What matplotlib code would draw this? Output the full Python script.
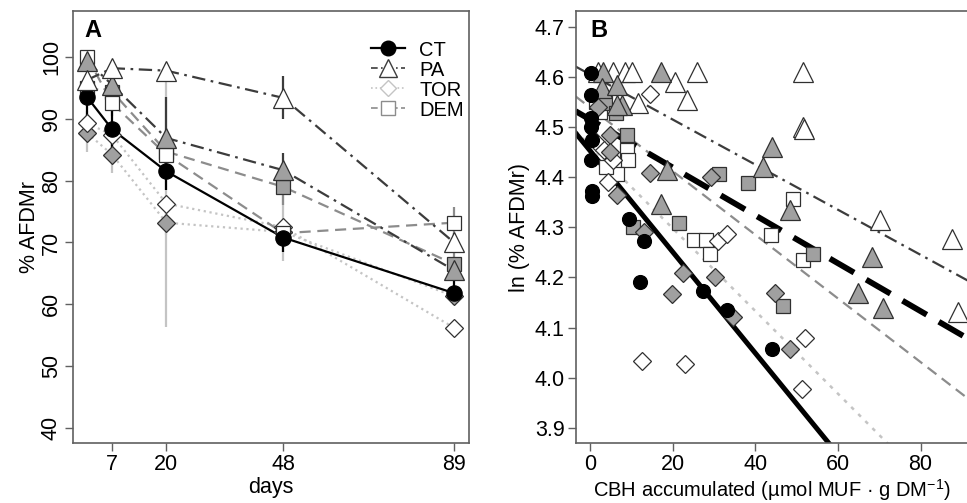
import matplotlib
matplotlib.use('Agg')
import matplotlib.pyplot as plt
from matplotlib.lines import Line2D

plt.rcParams['font.family'] = ['Liberation Sans', 'DejaVu Sans']
plt.rcParams['mathtext.default'] = 'regular'

# ---- panel A: % AFDMr over time ----
days = [1, 7, 20, 48, 89]
ct = [93.5, 88.3, 81.5, 70.8, 61.8]
ct_err = [3.0, 3.0, 3.0, 2.3, 1.9]
pa = [96.3, 98.2, 97.8, 93.4, 70.0]
pa_err = [0.8, 0.8, 1.0, 3.5, 1.5]
pa_g = [99.3, 95.5, 86.9, 81.7, 65.5]
pa_g_err = [1.0, 1.5, 6.7, 2.8, 1.5]
tor = [89.3, 87.4, 76.3, 72.5, 56.2]
tor_err = [2.0, 2.0, 20.0, 5.5, 1.0]
tor_g = [87.7, 84.2, 73.2, 71.7, 61.3]
tor_g_err = [3.1, 3.0, 2.0, 2.0, 1.0]
dem = [100.0, 92.5, 84.2, 71.5, 73.2]
dem_err = [1.0, 2.0, 2.0, 2.0, 2.6]
dem_g = [95.0, 94.4, 84.7, 79.0, 66.5]
dem_g_err = [1.0, 1.5, 2.0, 3.0, 2.0]

# ---- panel B: ln(% AFDMr) vs CBH accumulated ----
ct_x = [0.2, 0.2, 0.2, 0.2, 0.4, 0.2, 0.4, 0.4, 9.5, 13.1, 12.1, 27.3, 33.1, 44.0]
ct_y = [4.607, 4.563, 4.517, 4.500, 4.474, 4.434, 4.372, 4.362, 4.317, 4.273, 4.191, 4.173, 4.134, 4.057]
pa_x = [2.0, 5.6, 8.5, 10.1, 20.6, 25.8, 23.4, 11.7, 51.6, 51.6, 51.8, 70.2, 87.5, 89.1]
pa_y = [4.610, 4.610, 4.610, 4.610, 4.590, 4.610, 4.553, 4.547, 4.610, 4.500, 4.497, 4.315, 4.277, 4.131]
pa_g_x = [3.2, 17.3, 2.8, 6.5, 7.7, 6.5, 18.6, 44.0, 41.8, 17.3, 48.4, 68.2, 64.8, 71.0]
pa_g_y = [4.610, 4.610, 4.577, 4.583, 4.544, 4.544, 4.414, 4.460, 4.420, 4.347, 4.334, 4.241, 4.168, 4.138]
tor_x = [1.5, 3.5, 5.6, 4.4, 14.6, 31.0, 33.1, 12.7, 23.0, 52.0, 51.2]
tor_y = [4.470, 4.455, 4.434, 4.390, 4.565, 4.273, 4.287, 4.033, 4.028, 4.080, 3.978]
tor_g_x = [2.0, 4.8, 4.8, 6.5, 14.5, 29.3, 13.1, 22.6, 19.8, 30.2, 34.7, 44.8, 48.4]
tor_g_y = [4.539, 4.484, 4.450, 4.364, 4.408, 4.400, 4.290, 4.209, 4.166, 4.200, 4.121, 4.168, 4.058]
dem_x = [1.5, 2.5, 8.9, 9.3, 6.5, 4.0, 25.2, 28.2, 43.8, 49.2, 29.0, 51.5]
dem_y = [4.550, 4.530, 4.454, 4.434, 4.407, 4.420, 4.275, 4.275, 4.284, 4.356, 4.246, 4.234]
dem_g_x = [3.6, 6.3, 8.9, 31.3, 38.3, 21.6, 10.5, 53.9, 46.8]
dem_g_y = [4.547, 4.527, 4.484, 4.407, 4.389, 4.309, 4.301, 4.246, 4.142]

# regression lines (intercept, slope)
fit_ct = (4.453, -0.0101)
fit_pa = (4.605, -0.0045)
fit_pa_g = (4.515, -0.00478)
fit_tor = (4.463, -0.00825)
fit_dem = (4.539, -0.00635)

GREY = '#a0a0a0'
EDGE = '#303030'
C_CT, C_PA, C_TOR, C_DEM = 'black', '#3c3c3c', '#c4c4c4', '#8c8c8c'
SPINE = '#606060'
ms = {'o': 11.0, '^': 14.0, 'D': 9.5, 's': 10.5}
FS = 15.5

fig = plt.figure(figsize=(9.67, 5.03), dpi=100)
axA = fig.add_axes([0.0755, 0.1187, 0.4095, 0.86])
axB = fig.add_axes([0.5953, 0.1187, 0.4208, 0.86])

series = [
    (tor_g, tor_g_err, 'D', GREY, C_TOR, ':'),
    (tor, tor_err, 'D', 'white', C_TOR, ':'),
    (dem_g, dem_g_err, 's', GREY, C_DEM, (0, (5, 3))),
    (dem, dem_err, 's', 'white', C_DEM, (0, (5, 3))),
    (ct, ct_err, 'o', 'black', C_CT, '-'),
    (pa_g, pa_g_err, '^', GREY, C_PA, (0, (6, 2.5, 1.2, 2.5))),
    (pa, pa_err, '^', 'white', C_PA, (0, (6, 2.5, 1.2, 2.5))),
]
for vals, err, mk, fc, lc, ls in series:
    axA.plot(days, vals, color=lc, ls=ls, lw=1.6, zorder=2)
for vals, err, mk, fc, lc, ls in series:
    lo = [v - e for v, e in zip(vals, err)]
    hi = [v + e for v, e in zip(vals, err)]
    axA.vlines(days, lo, hi, color=lc, lw=1.6, zorder=1)
for vals, err, mk, fc, lc, ls in series:
    axA.plot(days, vals, ls='none', marker=mk, ms=ms[mk], mfc=fc,
             mec=EDGE if fc != 'black' else 'black', mew=0.9, zorder=3)

axA.set_xlim(-2.4, 92.6)
axA.set_ylim(37.5, 107.5)
axA.set_xticks([7, 20, 48, 89])
axA.set_yticks([40, 50, 60, 70, 80, 90, 100])
for lab in axA.get_yticklabels():
    lab.set_rotation(90)
    lab.set_va('center')
axA.set_xlabel('days', fontsize=FS, labelpad=1)
axA.set_ylabel('% AFDMr', fontsize=FS, labelpad=1)
axA.text(0.03, 0.98, 'A', transform=axA.transAxes, fontsize=17,
         fontweight='bold', va='top', ha='left')

handles = [
    Line2D([], [], color=C_CT, ls='-', lw=1.6, marker='o', ms=10.5, mfc='black', mec='black'),
    Line2D([], [], color=C_PA, ls=(0, (4, 2, 1, 2)), lw=1.2, marker='^', ms=13, mfc='white', mec=C_PA),
    Line2D([], [], color=C_TOR, ls=':', lw=1.2, marker='D', ms=8.5, mfc='white', mec=C_TOR),
    Line2D([], [], color=C_DEM, ls=(0, (4, 2)), lw=1.2, marker='s', ms=9.5, mfc='white', mec=C_DEM),
]
axA.legend(handles, ['CT', 'PA', 'TOR', 'DEM'], loc='upper right',
           bbox_to_anchor=(1.033, 0.973), frameon=False, fontsize=14.5,
           handlelength=1.7, labelspacing=0.05, handletextpad=0.7)

# ---- panel B ----
xs = [-3.5, 95]
for (b0, b1), lc, ls, lw in [
        (fit_pa, C_PA, (0, (6, 2.5, 1.2, 2.5)), 1.6),
        (fit_dem, C_DEM, (0, (5, 3)), 1.6),
        (fit_tor, C_TOR, (0, (1.5, 2.5)), 1.8),
        (fit_pa_g, 'black', (0, (4.8, 2.4)), 4.2),
        (fit_ct, 'black', '-', 3.6)]:
    axB.plot(xs, [b0 + b1 * x for x in xs], color=lc, ls=ls, lw=lw, zorder=2)

for xv, yv, mk, fc in [
        (dem_x, dem_y, 's', 'white'),
        (dem_g_x, dem_g_y, 's', GREY),
        (tor_x, tor_y, 'D', 'white'),
        (tor_g_x, tor_g_y, 'D', GREY),
        (pa_x, pa_y, '^', 'white'),
        (pa_g_x, pa_g_y, '^', GREY),
        (ct_x, ct_y, 'o', 'black')]:
    axB.plot(xv, yv, ls='none', marker=mk, ms=ms[mk] - (1.0 if mk == 'o' else 0),
             mfc=fc, mec=EDGE if fc != 'black' else 'black', mew=0.9, zorder=3)

axB.set_xlim(-3.46, 95)
axB.set_ylim(3.869, 4.732)
axB.set_xticks([0, 20, 40, 60, 80])
yt = [3.9, 4.0, 4.1, 4.2, 4.3, 4.4, 4.5, 4.6, 4.7]
axB.set_yticks(yt)
axB.set_yticklabels(['%.1f' % v for v in yt])
axB.set_xlabel('CBH accumulated (\u00b5mol MUF \u00b7 g DM$^{-1}$)', fontsize=14.5)
axB.xaxis.set_label_coords(0.482, -0.078)
axB.set_ylabel('ln (% AFDMr)', fontsize=FS, labelpad=3)
axB.text(0.035, 0.98, 'B', transform=axB.transAxes, fontsize=17,
         fontweight='bold', va='top', ha='left')

for ax in (axA, axB):
    for sp in ax.spines.values():
        sp.set_color(SPINE)
        sp.set_linewidth(1.2)
    ax.tick_params(length=6, width=1.0, color=SPINE, labelsize=FS, pad=2)

fig.savefig('out.png', dpi=100)
